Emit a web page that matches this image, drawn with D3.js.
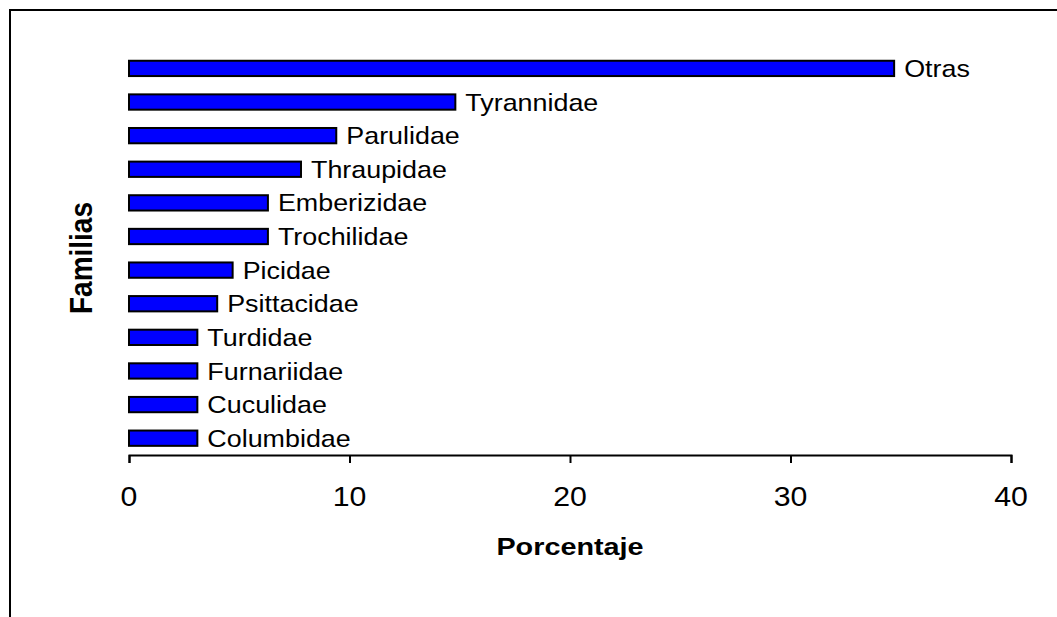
<!DOCTYPE html>
<html>
<head>
<meta charset="utf-8">
<script src="https://cdn.jsdelivr.net/npm/d3@7"></script>
<style>
  html, body { margin: 0; padding: 0; background: #fff; }
  svg { display: block; font-family: "Liberation Sans", Arial, sans-serif; }
</style>
</head>
<body>
<svg id="chart" width="1057" height="617"></svg>
<script>
// Bird families and their share of recorded species (%)
const familias = ["Otras", "Tyrannidae", "Parulidae", "Thraupidae", "Emberizidae",
  "Trochilidae", "Picidae", "Psittacidae", "Turdidae", "Furnariidae", "Cuculidae", "Columbidae"];
const porcentajes = [34.7, 14.8, 9.4, 7.8, 6.3, 6.3, 4.7, 4.0, 3.1, 3.1, 3.1, 3.1];
const xTicks = [0, 10, 20, 30, 40];
const xTitle = "Porcentaje";
const yTitle = "Familias";

const data = familias.map((f, i) => ({ familia: f, valor: porcentajes[i] }));

const svg = d3.select("#chart");

// Frame around the chart area
svg.append("rect")
  .attr("x", 10).attr("y", 10)
  .attr("width", 1100).attr("height", 700)
  .attr("fill", "none").attr("stroke", "#000").attr("stroke-width", 2);

const x = d3.scaleLinear().domain([0, 40]).range([129, 1011]);
const y = d3.scaleBand().domain(familias).range([51.6, 455])
  .paddingInner(0.545).paddingOuter(0.2725);

// Bars
svg.append("g").selectAll("rect").data(data).join("rect")
  .attr("x", x(0))
  .attr("y", d => y(d.familia))
  .attr("width", d => x(d.valor) - x(0))
  .attr("height", y.bandwidth())
  .attr("fill", "#0000ff")
  .attr("stroke", "#000")
  .attr("stroke-width", 2);

// Family labels at the end of each bar (drawn slightly wide)
const labelSize = 24;
svg.append("g").selectAll("text").data(data).join("text")
  .attr("transform", d => `translate(${x(d.valor) + 10},${y(d.familia) + y.bandwidth() / 2 + labelSize * 0.358}) scale(1.12,1)`)
  .attr("font-size", labelSize)
  .attr("fill", "#000")
  .text(d => d.familia);

// X axis
const axis = svg.append("g")
  .attr("transform", "translate(0,455)")
  .call(d3.axisBottom(x).tickValues(xTicks).tickSize(8).tickSizeOuter(8).tickPadding(0));
axis.select(".domain").attr("stroke", "#000").attr("stroke-width", 2);
axis.selectAll(".tick line").attr("stroke", "#000").attr("stroke-width", 2);
axis.selectAll(".tick text").remove();

svg.append("g").selectAll("text").data(xTicks).join("text")
  .attr("transform", d => `translate(${x(d)},505.5) scale(1.08,1)`)
  .attr("text-anchor", "middle")
  .attr("font-size", 28)
  .attr("fill", "#000")
  .text(d => d);

// Axis titles
svg.append("text")
  .attr("transform", `translate(570,555) scale(1.2,1)`)
  .attr("text-anchor", "middle")
  .attr("font-size", 24)
  .attr("font-weight", "bold")
  .text(xTitle);

svg.append("text")
  .attr("transform", `translate(91.5,258) scale(1.15,1) rotate(-90)`)
  .attr("text-anchor", "middle")
  .attr("font-size", 28)
  .attr("font-weight", "bold")
  .text(yTitle);
</script>
</body>
</html>
